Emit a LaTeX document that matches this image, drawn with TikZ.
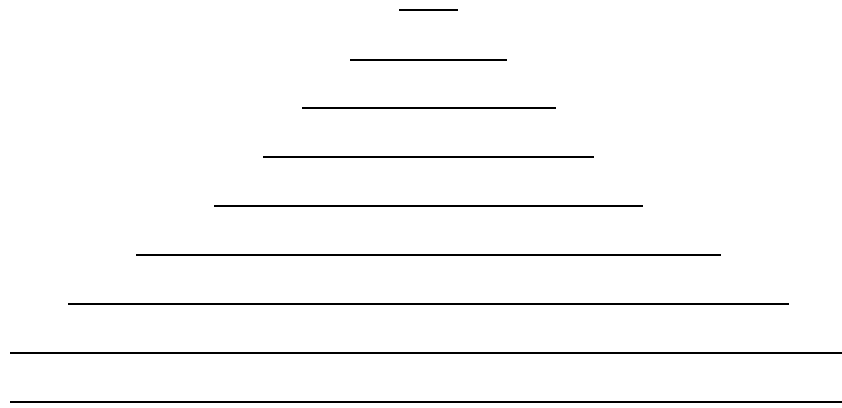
\documentclass[tikz,border=0pt]{standalone}
\usepackage{tikz}

\begin{document}
\begin{tikzpicture}[x=1pt, y=-1pt]
  \def\lw{1.6pt}  % rule thickness

  % Page frame
  \useasboundingbox (0,0) rectangle (842,407);

  % Rules, shortest at the top
  \foreach \y/\xa/\xb in {10/399/458, 60/350/507, 108/302/556, 157/263/594,
                          206/214/643, 255/136/721, 304/68/789,
                          353/10/842, 402/10/842}
    \draw[line width=\lw] (\xa,\y) -- (\xb,\y);

\end{tikzpicture}
\end{document}
